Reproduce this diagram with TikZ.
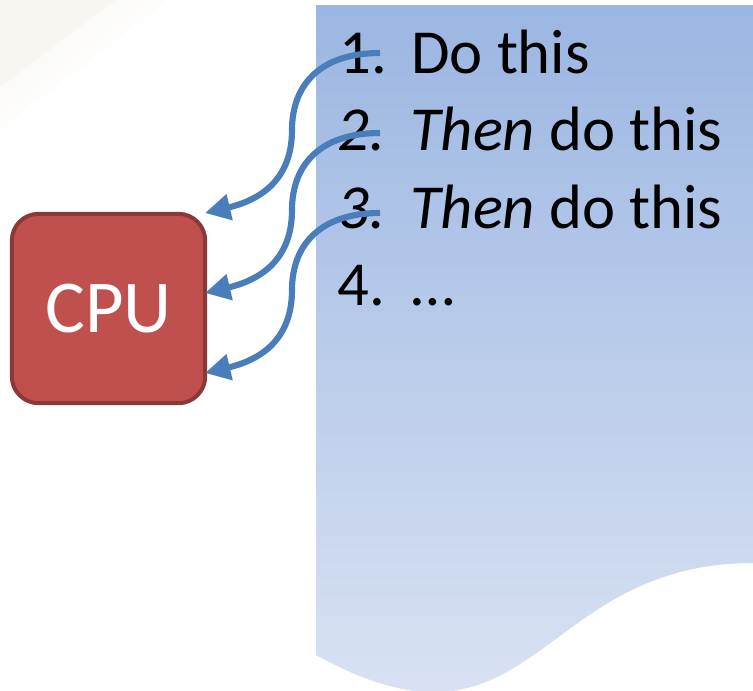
\documentclass[tikz,border=0pt]{standalone}
\usepackage{fontspec}
\setmainfont{Carlito}
\usetikzlibrary{arrows.meta,calc}
\definecolor{cpufill}{RGB}{192,80,77}
\definecolor{cpuedge}{RGB}{140,56,54}
\definecolor{flowblue}{RGB}{74,126,187}
\definecolor{doctop}{RGB}{155,182,226}
\definecolor{docbot}{RGB}{224,231,245}
\definecolor{beige}{RGB}{248,246,240}
\tikzset{
  cpubox/.style={draw=cpuedge, fill=cpufill, line width=3pt, rounded corners=20pt,
    minimum width=145pt, minimum height=142pt, inner sep=0pt, text=white,
    font=\fontsize{56}{64}\selectfont},
  listnum/.style={anchor=base west, inner sep=0pt, font=\fontsize{47}{56}\selectfont},
  listtxt/.style={anchor=base west, inner sep=0pt, font=\fontsize{47}{56}\selectfont},
  flow/.style={draw=flowblue, line width=4.6pt, -{Triangle[length=19pt,width=19pt]}},
}
\begin{document}
\begin{tikzpicture}[x=0.75pt,y=-0.75pt]
\useasboundingbox (0,0) rectangle (753,690);
% faint background corner
\foreach \k in {20,19,...,1}{
  \pgfmathsetmacro{\shadeamt}{100-4*\k}
  \fill[beige!\shadeamt!white] (0,0) -- ({170*\k/20},0) -- (0,{130*\k/20}) -- cycle;
}
\fill[beige] (0,0) -- (115,0) -- (0,87) -- cycle;
% document shape
\shade[top color=doctop, bottom color=docbot]
  (316,5) -- (753,5) -- (753,563) .. controls (534.5,563) and (534.5,776) .. (316,655) -- cycle;
% list
\node[listnum] (n1) at (339,73) {1.};
\node[listtxt] (t1) at (411,73) {Do this};
\node[listnum] (n2) at (337,150) {\itshape 2.};
\node[listtxt] (t2) at (410,150) {\itshape Then\/\upshape{} do this};
\node[listnum] (n3) at (337,228) {\itshape 3.};
\node[listtxt] (t3) at (410,228) {\itshape Then\/\upshape{} do this};
\node[listnum] (n4) at (337,305) {4.};
\node[listtxt] (t4) at (411,305) {…};
% CPU
\node[cpubox] (cpu) at (108.5,308.5) {CPU};
% connector ends
\coordinate (s1) at (380,53);
\coordinate (s2) at (380,133);
\coordinate (s3) at (380,213);
\coordinate (m1) at (292,130);
\coordinate (m2) at (292,210);
\coordinate (m3) at (292,290);
\coordinate (e1) at (205,213);
\coordinate (e2) at (205,293);
\coordinate (e3) at (205,373);
\foreach \i in {1,2,3}{
  \draw[flow] (s\i) .. controls +(-60,0) and +(0,-45) .. (m\i)
                    .. controls +(0,50) and +(55,-13) .. (e\i);
}
\end{tikzpicture}
\end{document}
